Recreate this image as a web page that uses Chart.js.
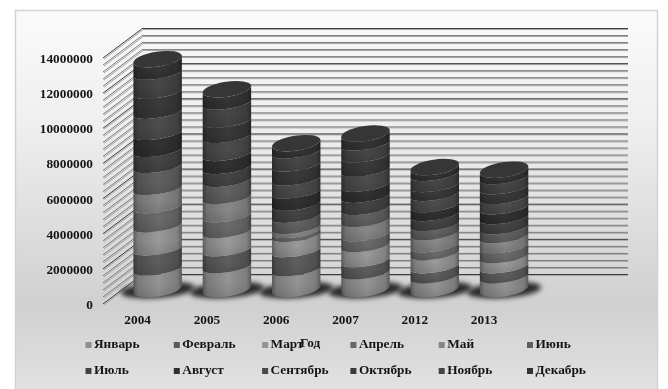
<!DOCTYPE html>
<html>
<head>
<meta charset="utf-8">
<script src="https://cdn.jsdelivr.net/npm/chart.js@4"></script>
<style>
html, body { margin: 0; padding: 0; background: #fff; overflow: hidden; }
canvas { display: block; }
</style>
</head>
<body>
<canvas id="myChart" width="668" height="389"></canvas>
<script>
const years = ["2004", "2005", "2006", "2007", "2012", "2013", ""];
const axisTitle = "Год";

const january   = [1140000, 1260000, 1090000, 910000, 690000, 690000];
const february  = [1140000, 970000, 1090000, 690000, 570000, 570000];
const march     = [1310000, 1030000, 860000, 860000, 740000, 570000];
const april     = [1090000, 910000, 230000, 630000, 460000, 570000];
const may       = [1030000, 1030000, 230000, 800000, 690000, 570000];
const june      = [1260000, 970000, 630000, 690000, 510000, 510000];
const july      = [910000, 740000, 690000, 690000, 570000, 570000];
const august    = [970000, 740000, 690000, 630000, 510000, 570000];
const september = [1200000, 1030000, 740000, 860000, 630000, 570000];
const october   = [1140000, 860000, 800000, 800000, 510000, 570000];
const november  = [1090000, 1030000, 740000, 690000, 630000, 570000];
const december  = [800000, 800000, 510000, 600000, 430000, 460000];

const monthNames = ["Январь", "Февраль", "Март", "Апрель", "Май", "Июнь",
    "Июль", "Август", "Сентябрь", "Октябрь", "Ноябрь", "Декабрь"];
const monthValues = [january, february, march, april, may, june,
    july, august, september, october, november, december];
const monthColors = ["#8e8e8e", "#5a5a5a", "#949494", "#686868", "#848484", "#5e5e5e",
    "#424242", "#303030", "#4a4a4a", "#383838", "#444444", "#333333"];

const FONT_SIZE = 13.3;
const FONT = `bold ${FONT_SIZE}px "Liberation Serif"`;
const TEXT_COLOR = "#151515";
// back wall sits this far from the front axis
const DEPTH_X = 40;
const DEPTH_Y = -30;
// cylinders stand in the middle of the floor
const COL_X = 20;
const COL_Y = -15;
const TILT = -0.15;
const END_RY = 7.5;
const BAND_RY = 5.5;

function shade(hex, f) {
    const n = parseInt(hex.slice(1), 16);
    const c = [n >> 16, (n >> 8) & 255, n & 255].map(v => Math.min(255, Math.round(v * f)));
    return `rgb(${c[0]},${c[1]},${c[2]})`;
}

function sideGradient(ctx, cx, a, color) {
    const g = ctx.createLinearGradient(cx - a, 0, cx + a, 0);
    g.addColorStop(0, shade(color, 0.62));
    g.addColorStop(0.1, shade(color, 0.86));
    g.addColorStop(0.52, shade(color, 1.04));
    g.addColorStop(0.9, shade(color, 0.88));
    g.addColorStop(1, shade(color, 0.62));
    return g;
}

// Gradient panel behind everything
const panelPlugin = {
    id: "panel",
    beforeDraw(chart) {
        const ctx = chart.ctx;
        const g = ctx.createLinearGradient(0, 10, 0, 389);
        g.addColorStop(0, "#fbfbfb");
        g.addColorStop(0.3, "#efefef");
        g.addColorStop(0.78, "#d0d0d0");
        g.addColorStop(1, "#e2e2e2");
        ctx.save();
        ctx.fillStyle = g;
        ctx.fillRect(15, 10, 643, 385);
        ctx.strokeStyle = "#d2d2d2";
        ctx.lineWidth = 1.5;
        ctx.strokeRect(15.5, 10.5, 642, 385);
        ctx.restore();
    }
};

// Side and back wall lines, then the cylinders on top of them
const cylinderPlugin = {
    id: "cylinders",
    beforeDatasetsDraw(chart) {
        const ctx = chart.ctx;
        const yScale = chart.scales.y;
        const area = chart.chartArea;

        ctx.save();
        yScale.ticks.forEach(tick => {
            const y = yScale.getPixelForValue(tick.value);
            const major = tick.value % 2000000 === 0;
            const backY = y + DEPTH_Y;

            ctx.lineWidth = 1;
            ctx.strokeStyle = "#a8a8a8";
            ctx.beginPath();
            ctx.moveTo(area.left + DEPTH_X, backY + 1.5);
            ctx.lineTo(area.right + DEPTH_X, backY + 1.5);
            ctx.moveTo(area.left + 1, y + 1);
            ctx.lineTo(area.left + DEPTH_X + 1, backY + 1);
            ctx.stroke();

            ctx.strokeStyle = major ? "#3c3c3c" : "#7c7c7c";
            ctx.beginPath();
            ctx.moveTo(area.left + DEPTH_X, backY + 0.5);
            ctx.lineTo(area.right + DEPTH_X, backY + 0.5);
            ctx.moveTo(area.left, y);
            ctx.lineTo(area.left + DEPTH_X, backY);
            ctx.stroke();
        });
        ctx.restore();

        const first = chart.getDatasetMeta(0).data;
        // floor shadows go down first so no cylinder is covered by them
        first.forEach((bar, col) => {
            if (col >= january.length) return;
            ctx.save();
            ctx.filter = "blur(2.5px)";
            ctx.fillStyle = "#2c2c2c";
            ctx.beginPath();
            ctx.ellipse(bar.x + COL_X, bar.base + COL_Y + 1, bar.width * 0.76, 8, TILT / 2, 0, Math.PI * 2);
            ctx.fill();
            ctx.restore();
        });

        const lastIndex = chart.data.datasets.length - 1;
        chart.data.datasets.forEach((ds, i) => {
            chart.getDatasetMeta(i).data.forEach((bar, col) => {
                if (col >= ds.data.length) return;
                const cx = bar.x + COL_X;
                const a = bar.width / 2;
                const top = bar.y + COL_Y;
                const bottom = bar.base + COL_Y;
                const bottomRy = i === 0 ? END_RY : BAND_RY;
                const topRy = i === lastIndex ? END_RY : BAND_RY;

                ctx.beginPath();
                ctx.ellipse(cx, bottom, a, bottomRy, TILT, 0, Math.PI);
                ctx.ellipse(cx, top, a, topRy, TILT, Math.PI, 0, true);
                ctx.closePath();
                ctx.fillStyle = sideGradient(ctx, cx, a, ds.backgroundColor);
                ctx.fill();

                // each band darkens a little towards its lower edge
                const fade = ctx.createLinearGradient(0, top, 0, bottom + bottomRy);
                fade.addColorStop(0, "rgba(0,0,0,0)");
                fade.addColorStop(0.5, "rgba(0,0,0,0)");
                fade.addColorStop(1, "rgba(0,0,0,0.1)");
                ctx.fillStyle = fade;
                ctx.fill();

                // the last month also closes the cylinder with its lid
                if (i === lastIndex) {
                    ctx.fillStyle = "#363636";
                    ctx.beginPath();
                    ctx.ellipse(cx, top, a, END_RY, TILT, 0, Math.PI * 2);
                    ctx.fill();
                }
            });
        });
        return false;
    }
};

// Fixed six-column legend and the axis title that overlaps it
const legendPlugin = {
    id: "monthLegend",
    afterDraw(chart) {
        const ctx = chart.ctx;
        ctx.save();
        ctx.font = FONT;
        ctx.textBaseline = "middle";
        ctx.textAlign = "left";
        chart.data.datasets.forEach((ds, i) => {
            const x = 85.5 + (i % 6) * 88.3;
            const y = i < 6 ? 345 : 371;
            ctx.fillStyle = ds.backgroundColor;
            ctx.fillRect(x, y - 3, 6, 6);
            ctx.fillStyle = TEXT_COLOR;
            ctx.fillText(ds.label, x + 8.5, y);
        });
        ctx.fillText(axisTitle, 300, 344);
        ctx.restore();
    }
};

new Chart(document.getElementById("myChart"), {
    type: "bar",
    data: {
        labels: years,
        datasets: monthNames.map((name, i) => ({
            label: name,
            data: monthValues[i],
            backgroundColor: monthColors[i]
        }))
    },
    options: {
        responsive: false,
        animation: false,
        layout: { padding: { left: 0, right: 80, top: 58, bottom: 0 } },
        categoryPercentage: 1,
        barPercentage: 0.707,
        plugins: {
            legend: { display: false },
            title: { display: false },
            tooltip: { enabled: false }
        },
        scales: {
            x: {
                stacked: true,
                grid: { display: false, drawTicks: false },
                border: { display: false },
                ticks: { color: TEXT_COLOR, font: { family: "Liberation Serif", size: FONT_SIZE, weight: "bold" }, padding: 9, maxRotation: 0 },
                afterFit(scale) { scale.height = 85; }
            },
            y: {
                stacked: true,
                min: 0,
                max: 14000000,
                grid: { display: false, drawTicks: false },
                border: { display: false },
                ticks: {
                    stepSize: 400000,
                    autoSkip: false,
                    padding: 10,
                    labelOffset: 1.5,
                    color: TEXT_COLOR,
                    font: { family: "Liberation Serif", size: FONT_SIZE, weight: "bold" },
                    callback: v => (v % 2000000 === 0 ? String(v) : "")
                },
                afterFit(scale) { scale.width = 103; }
            }
        }
    },
    plugins: [panelPlugin, cylinderPlugin, legendPlugin]
});
</script>
</body>
</html>
